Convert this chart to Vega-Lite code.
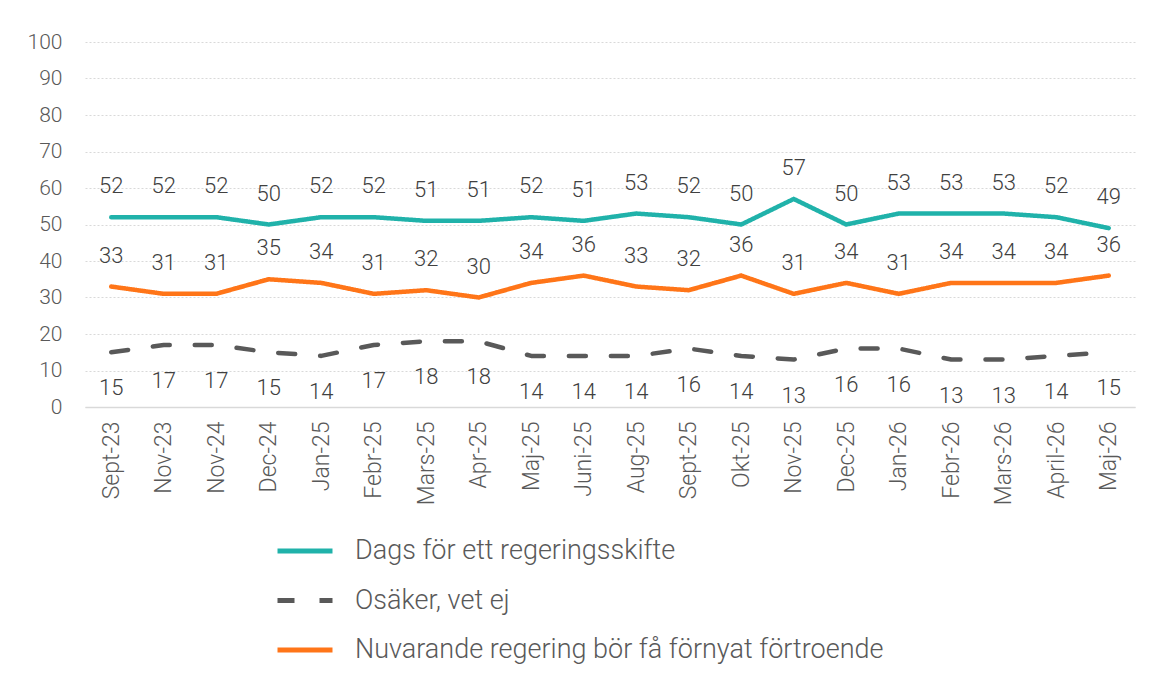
{
  "$schema": "https://vega.github.io/schema/vega-lite/v6.json",
  "autosize": {"type": "none"},
  "width": 1050,
  "height": 365,
  "padding": {"left": 85, "top": 42, "right": 14, "bottom": 270},
  "background": "white",
  "config": {
    "font": "Roboto",
    "view": {"stroke": null},
    "axis": {"labelColor": "#595959", "titleColor": "#595959", "labelFontWeight": 300}
  },
  "datasets": {
    "d": [
      {"month": "Sept-23", "series": "Dags för ett regeringsskifte", "value": 52},
      {"month": "Nov-23", "series": "Dags för ett regeringsskifte", "value": 52},
      {"month": "Nov-24", "series": "Dags för ett regeringsskifte", "value": 52},
      {"month": "Dec-24", "series": "Dags för ett regeringsskifte", "value": 50},
      {"month": "Jan-25", "series": "Dags för ett regeringsskifte", "value": 52},
      {"month": "Febr-25", "series": "Dags för ett regeringsskifte", "value": 52},
      {"month": "Mars-25", "series": "Dags för ett regeringsskifte", "value": 51},
      {"month": "Apr-25", "series": "Dags för ett regeringsskifte", "value": 51},
      {"month": "Maj-25", "series": "Dags för ett regeringsskifte", "value": 52},
      {"month": "Juni-25", "series": "Dags för ett regeringsskifte", "value": 51},
      {"month": "Aug-25", "series": "Dags för ett regeringsskifte", "value": 53},
      {"month": "Sept-25", "series": "Dags för ett regeringsskifte", "value": 52},
      {"month": "Okt-25", "series": "Dags för ett regeringsskifte", "value": 50},
      {"month": "Nov-25", "series": "Dags för ett regeringsskifte", "value": 57},
      {"month": "Dec-25", "series": "Dags för ett regeringsskifte", "value": 50},
      {"month": "Jan-26", "series": "Dags för ett regeringsskifte", "value": 53},
      {"month": "Febr-26", "series": "Dags för ett regeringsskifte", "value": 53},
      {"month": "Mars-26", "series": "Dags för ett regeringsskifte", "value": 53},
      {"month": "April-26", "series": "Dags för ett regeringsskifte", "value": 52},
      {"month": "Maj-26", "series": "Dags för ett regeringsskifte", "value": 49},
      {"month": "Sept-23", "series": "Osäker, vet ej", "value": 15},
      {"month": "Nov-23", "series": "Osäker, vet ej", "value": 17},
      {"month": "Nov-24", "series": "Osäker, vet ej", "value": 17},
      {"month": "Dec-24", "series": "Osäker, vet ej", "value": 15},
      {"month": "Jan-25", "series": "Osäker, vet ej", "value": 14},
      {"month": "Febr-25", "series": "Osäker, vet ej", "value": 17},
      {"month": "Mars-25", "series": "Osäker, vet ej", "value": 18},
      {"month": "Apr-25", "series": "Osäker, vet ej", "value": 18},
      {"month": "Maj-25", "series": "Osäker, vet ej", "value": 14},
      {"month": "Juni-25", "series": "Osäker, vet ej", "value": 14},
      {"month": "Aug-25", "series": "Osäker, vet ej", "value": 14},
      {"month": "Sept-25", "series": "Osäker, vet ej", "value": 16},
      {"month": "Okt-25", "series": "Osäker, vet ej", "value": 14},
      {"month": "Nov-25", "series": "Osäker, vet ej", "value": 13},
      {"month": "Dec-25", "series": "Osäker, vet ej", "value": 16},
      {"month": "Jan-26", "series": "Osäker, vet ej", "value": 16},
      {"month": "Febr-26", "series": "Osäker, vet ej", "value": 13},
      {"month": "Mars-26", "series": "Osäker, vet ej", "value": 13},
      {"month": "April-26", "series": "Osäker, vet ej", "value": 14},
      {"month": "Maj-26", "series": "Osäker, vet ej", "value": 15},
      {"month": "Sept-23", "series": "Nuvarande regering bör få förnyat förtroende", "value": 33},
      {"month": "Nov-23", "series": "Nuvarande regering bör få förnyat förtroende", "value": 31},
      {"month": "Nov-24", "series": "Nuvarande regering bör få förnyat förtroende", "value": 31},
      {"month": "Dec-24", "series": "Nuvarande regering bör få förnyat förtroende", "value": 35},
      {"month": "Jan-25", "series": "Nuvarande regering bör få förnyat förtroende", "value": 34},
      {"month": "Febr-25", "series": "Nuvarande regering bör få förnyat förtroende", "value": 31},
      {"month": "Mars-25", "series": "Nuvarande regering bör få förnyat förtroende", "value": 32},
      {"month": "Apr-25", "series": "Nuvarande regering bör få förnyat förtroende", "value": 30},
      {"month": "Maj-25", "series": "Nuvarande regering bör få förnyat förtroende", "value": 34},
      {"month": "Juni-25", "series": "Nuvarande regering bör få förnyat förtroende", "value": 36},
      {"month": "Aug-25", "series": "Nuvarande regering bör få förnyat förtroende", "value": 33},
      {"month": "Sept-25", "series": "Nuvarande regering bör få förnyat förtroende", "value": 32},
      {"month": "Okt-25", "series": "Nuvarande regering bör få förnyat förtroende", "value": 36},
      {"month": "Nov-25", "series": "Nuvarande regering bör få förnyat förtroende", "value": 31},
      {"month": "Dec-25", "series": "Nuvarande regering bör få förnyat förtroende", "value": 34},
      {"month": "Jan-26", "series": "Nuvarande regering bör få förnyat förtroende", "value": 31},
      {"month": "Febr-26", "series": "Nuvarande regering bör få förnyat förtroende", "value": 34},
      {"month": "Mars-26", "series": "Nuvarande regering bör få förnyat förtroende", "value": 34},
      {"month": "April-26", "series": "Nuvarande regering bör få förnyat förtroende", "value": 34},
      {"month": "Maj-26", "series": "Nuvarande regering bör få förnyat förtroende", "value": 36}
    ]
  },
  "data": {"name": "d"},
  "encoding": {
    "x": {
      "field": "month", "type": "nominal", "sort": null,
      "scale": {"type": "point", "padding": 0.5},
      "axis": {
        "title": null, "labelAngle": -90, "labelAlign": "right", "labelBaseline": "middle",
        "labelFontSize": 23, "labelPadding": 14, "ticks": false,
        "domainColor": "#d9d9d9", "domainWidth": 1.5, "grid": false
      }
    },
    "y": {
      "field": "value", "type": "quantitative",
      "scale": {"domain": [0, 100], "nice": false},
      "axis": {
        "title": null, "values": [0, 10, 20, 30, 40, 50, 60, 70, 80, 90, 100],
        "labelFontSize": 21, "labelPadding": 23, "ticks": false, "domain": false,
        "gridColor": "#d9d9d9", "gridDash": [2, 2], "gridWidth": 1
      }
    }
  },
  "layer": [
    {
      "mark": {"type": "line", "strokeWidth": 4.5, "strokeCap": "round", "strokeJoin": "round"},
      "encoding": {
        "color": {
          "field": "series", "type": "nominal",
          "scale": {
            "domain": ["Dags för ett regeringsskifte", "Osäker, vet ej", "Nuvarande regering bör få förnyat förtroende"],
            "range": ["#20b2aa", "#595959", "#ff7518"]
          },
          "legend": {
            "title": null, "orient": "none", "legendX": 190, "legendY": 479,
            "direction": "vertical", "symbolType": "stroke", "symbolSize": 3025,
            "symbolStrokeWidth": 5, "labelFontSize": 27, "labelFontWeight": 300, "labelColor": "#595959",
            "labelOffset": 20, "rowPadding": 6.5, "labelLimit": 800
          }
        },
        "strokeDash": {
          "field": "series", "type": "nominal",
          "scale": {
            "domain": ["Dags för ett regeringsskifte", "Osäker, vet ej", "Nuvarande regering bör få förnyat förtroende"],
            "range": [[1, 0], [17, 25], [1, 0]]
          },
          "legend": {
            "title": null, "orient": "none", "legendX": 190, "legendY": 479,
            "direction": "vertical", "symbolType": "stroke", "symbolSize": 3025,
            "symbolStrokeWidth": 5, "labelFontSize": 27, "labelFontWeight": 300, "labelColor": "#595959",
            "labelOffset": 20, "rowPadding": 6.5, "labelLimit": 800
          }
        }
      }
    },
    {
      "transform": [{"filter": "datum.series !== 'Osäker, vet ej'"}],
      "mark": {"type": "text", "dy": -31, "fontSize": 22, "fontWeight": 300, "color": "#404040"},
      "encoding": {"text": {"field": "value", "type": "quantitative"}}
    },
    {
      "transform": [{"filter": "datum.series === 'Osäker, vet ej'"}],
      "mark": {"type": "text", "dy": 36, "fontSize": 22, "fontWeight": 300, "color": "#404040"},
      "encoding": {"text": {"field": "value", "type": "quantitative"}}
    }
  ]
}
